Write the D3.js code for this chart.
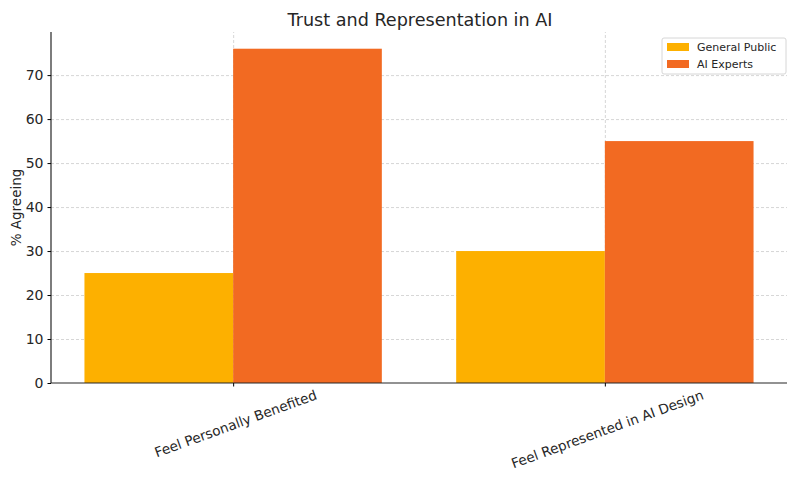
<!DOCTYPE html>
<html>
<head>
<meta charset="utf-8">
<script src="https://cdn.jsdelivr.net/npm/d3@7"></script>
<style>
body { margin: 0; background: #fff; }
text { font-family: "DejaVu Sans", sans-serif; fill: #262626; }
.grid line { stroke: #cccccc; stroke-dasharray: 3,2; stroke-width: 0.8; }
.grid path { display: none; }
</style>
</head>
<body>
<script>
var categories = ["Feel Personally Benefited", "Feel Represented in AI Design"];
var seriesNames = ["General Public", "AI Experts"];
var generalPublic = [25, 30];
var aiExperts = [76, 55];
var yTicks = [0, 10, 20, 30, 40, 50, 60, 70];
var colors = ["#FDB000", "#F26A22"];

var w = 800, h = 480;
var m = {left: 51, right: 13, top: 32, bottom: 97};
var svg = d3.select("body").append("svg").attr("width", w).attr("height", h);

var x = d3.scaleLinear().domain([-0.49, 1.49]).range([m.left, w - m.right]);
var y = d3.scaleLinear().domain([0, 79.8]).range([h - m.bottom, m.top]);
var bw = 0.4;

// grid
svg.append("g").attr("class", "grid")
	.attr("transform", "translate(0," + (h - m.bottom) + ")")
	.call(d3.axisBottom(x).tickValues([0, 1]).tickSize(-(h - m.bottom - m.top)).tickFormat(""));
svg.append("g").attr("class", "grid")
	.attr("transform", "translate(" + m.left + ",0)")
	.call(d3.axisLeft(y).tickValues(yTicks.slice(1)).tickSize(-(w - m.left - m.right)).tickFormat(""));

var series = [generalPublic, aiExperts];
series.forEach(function(vals, s) {
	svg.selectAll(".bar" + s).data(vals).enter().append("rect")
		.attr("x", function(d, i) { return x(i + (s === 0 ? -bw : 0)); })
		.attr("width", x(bw) - x(0))
		.attr("y", function(d) { return y(d); })
		.attr("height", function(d) { return y(0) - y(d); })
		.attr("fill", colors[s]);
});

// axes
var ya = svg.append("g").attr("transform", "translate(" + m.left + ",0)")
	.call(d3.axisLeft(y).tickValues(yTicks).tickSize(3.5).tickPadding(4));
ya.select(".domain").attr("stroke", "#262626").attr("stroke-width", 1.2).attr("d", "M0," + y(0) + "V" + m.top);
ya.selectAll("text").style("font-size", "14px");

var xa = svg.append("g").attr("transform", "translate(0," + (h - m.bottom) + ")")
	.call(d3.axisBottom(x).tickValues([0, 1]).tickSize(3.5).tickFormat(function(d) { return categories[d]; }));
xa.select(".domain").attr("stroke", "#262626").attr("stroke-width", 1.2).attr("d", "M" + m.left + ",0H" + (w - m.right));
// rotated labels, centred on the tick (bbox top just under the tick)
var ang = 20 * Math.PI / 180;
xa.selectAll("text").style("font-size", "13.6px")
	.attr("text-anchor", "middle").attr("dy", "0.35em").attr("y", 0).attr("x", 0)
	.attr("transform", function() {
		var tw = this.getComputedTextLength(), th = 13.6;
		var bh = tw * Math.sin(ang) + th * Math.cos(ang);
		return "translate(2," + (5 + bh / 2) + ") rotate(-20)";
	});

// title and label
svg.append("text").attr("x", (m.left + w - m.right) / 2 + 1).attr("y", 26)
	.attr("text-anchor", "middle").style("font-size", "17.6px").text("Trust and Representation in AI");
svg.append("text").attr("transform", "translate(21," + ((m.top + h - m.bottom) / 2) + ") rotate(-90)")
	.attr("text-anchor", "middle").style("font-size", "13.5px").text("% Agreeing");

// legend
var lg = svg.append("g").attr("transform", "translate(662,38)");
lg.append("rect").attr("width", 124).attr("height", 36).attr("rx", 2)
	.attr("fill", "#fff").attr("fill-opacity", 0.8).attr("stroke", "#d6d6d6");
seriesNames.forEach(function(n, i) {
	lg.append("rect").attr("x", 5).attr("y", 5 + i * 17).attr("width", 22).attr("height", 8).attr("fill", colors[i]);
	lg.append("text").attr("x", 35).attr("y", 13 + i * 17).style("font-size", "11px").text(n);
});
</script>
</body>
</html>
